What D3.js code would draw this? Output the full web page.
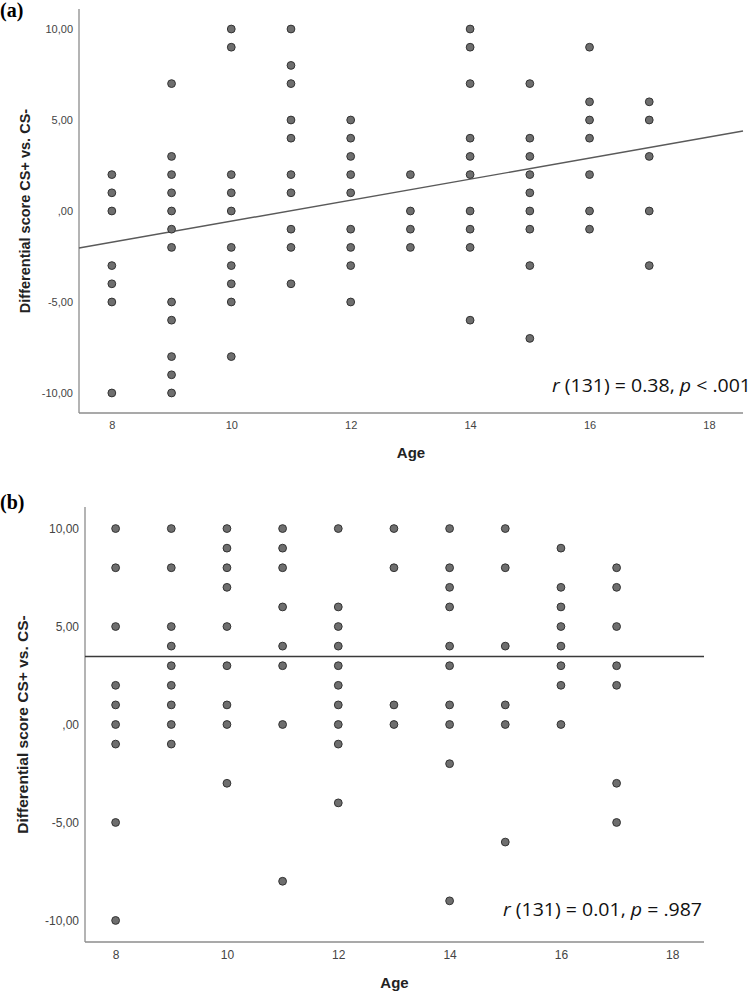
<!DOCTYPE html>
<html>
<head>
<meta charset="utf-8">
<script src="https://cdn.jsdelivr.net/npm/d3@7"></script>
<style>
  body { margin: 0; background: #fff; }
  svg { display: block; }
</style>
</head>
<body>
<div id="chart"></div>
<script>
// ages on the x axis (one column of points per age)
var ages = [8, 9, 10, 11, 12, 13, 14, 15, 16, 17];

// panel (a): differential scores per age
var scoresA = [
  [2, 1, 0, -3, -4, -5, -10],
  [7, 3, 2, 1, 0, -1, -2, -5, -6, -8, -9, -10],
  [10, 9, 2, 1, 0, -2, -3, -4, -5, -8],
  [10, 8, 7, 5, 4, 2, 1, -1, -2, -4],
  [5, 4, 3, 2, 1, -1, -2, -3, -5],
  [2, 0, -1, -2],
  [10, 9, 7, 4, 3, 2, 0, -1, -2, -6],
  [7, 4, 3, 2, 1, 0, -1, -3, -7],
  [9, 6, 5, 4, 2, 0, -1],
  [6, 5, 3, 0, -3]
];

// panel (b): differential scores per age
var scoresB = [
  [10, 8, 5, 2, 1, 0, -1, -5, -10],
  [10, 8, 5, 4, 3, 2, 1, 0, -1],
  [10, 9, 8, 7, 5, 3, 1, 0, -3],
  [10, 9, 8, 6, 4, 3, 0, -8],
  [10, 6, 5, 4, 3, 2, 1, 0, -1, -4],
  [10, 8, 1, 0],
  [10, 8, 7, 6, 4, 3, 1, 0, -2, -9],
  [10, 8, 4, 1, 0, -6],
  [9, 7, 6, 5, 4, 3, 2, 0],
  [8, 7, 5, 3, 2, -3, -5]
];

// fitted regression lines
var slopeA = 0.578, interceptA = -6.34;
var slopeB = 0.0, interceptB = 3.47;

var xTicks = [8, 10, 12, 14, 16, 18];
var yTicks = [-10, -5, 0, 5, 10];
var xDomain = [7.45, 18.57];
var yDomain = [-11.1, 11.1];

var yTitle = "Differential score CS+ vs. CS-";
var xTitle = "Age";

var W = 752, H = 994;
var svg = d3.select("#chart").append("svg").attr("width", W).attr("height", H);

var loc = d3.formatLocale({decimal: ",", thousands: ".", grouping: [3], currency: ["", ""], minus: "-"});
var f2 = loc.format(".2f");
function yFmt(v) {
  var s = f2(v);
  return s.replace(/^0,/, ",").replace(/^-0,/, "-,");
}

function panel(o) {
  var x = d3.scaleLinear().domain(xDomain).range([o.left, o.right]);
  var y = d3.scaleLinear().domain(yDomain).range([o.bottom, o.top]);
  var g = svg.append("g");

  // panel letter
  g.append("text")
    .attr("x", 0).attr("y", o.letterY)
    .style("font-family", "'Liberation Serif', 'Times New Roman', serif")
    .style("font-weight", "bold").style("font-size", "20px")
    .text(o.letter);

  // axes (SPSS style: no tick marks)
  var yAxis = d3.axisLeft(y).tickValues(yTicks).tickFormat(yFmt).tickSize(0).tickPadding(6);
  var gy = g.append("g").attr("transform", "translate(" + o.left + ",0)").call(yAxis);
  var xAxis = d3.axisBottom(x).tickValues(xTicks).tickSize(0).tickPadding(o.xPad);
  var gx = g.append("g").attr("transform", "translate(0," + o.bottom + ")").call(xAxis);
  [gx, gy].forEach(function (a) {
    a.select(".domain").attr("stroke", "#8c8c8c").attr("stroke-width", 1.3);
    a.selectAll("text")
      .style("font-family", "'Liberation Sans', Arial, sans-serif")
      .style("font-size", o.tickSize + "px")
      .attr("fill", "#444");
  });
  // y axis line extends to the top, x axis to the right end
  gy.select(".domain").attr("d", "M0," + o.bottom + "V" + o.top);
  gx.select(".domain").attr("d", "M" + o.left + ",0H" + o.right);

  // axis titles
  g.append("text")
    .attr("transform", "translate(" + o.yTitleX + "," + (o.top + o.bottom) / 2 + ") rotate(-90)")
    .attr("text-anchor", "middle").attr("dy", "0.35em")
    .style("font-family", "'Liberation Sans', Arial, sans-serif")
    .style("font-weight", "bold").style("font-size", o.titleSize + "px")
    .attr("fill", "#222")
    .text(yTitle);
  g.append("text")
    .attr("x", (o.left + o.right) / 2).attr("y", o.xTitleY)
    .attr("text-anchor", "middle").attr("dy", "0.35em")
    .style("font-family", "'Liberation Sans', Arial, sans-serif")
    .style("font-weight", "bold").style("font-size", "15px")
    .attr("fill", "#222")
    .text(xTitle);

  // regression line
  g.append("line")
    .attr("x1", x(xDomain[0])).attr("y1", y(o.intercept + o.slope * xDomain[0]))
    .attr("x2", x(xDomain[1])).attr("y2", y(o.intercept + o.slope * xDomain[1]))
    .attr("stroke", o.lineColor).attr("stroke-width", 1.4);

  // points
  var pts = [];
  ages.forEach(function (a, i) {
    o.scores[i].forEach(function (v) { pts.push([a, v]); });
  });
  g.append("g").selectAll("circle")
    .data(pts).enter().append("circle")
    .attr("cx", function (d) { return x(d[0]); })
    .attr("cy", function (d) { return y(d[1]); })
    .attr("r", 3.9)
    .attr("fill", "#6e6e6e")
    .attr("stroke", "#333").attr("stroke-width", 1);

  // correlation annotation
  var t = g.append("text")
    .attr("x", o.noteX).attr("y", o.noteY)
    .attr("text-anchor", o.noteAnchor)
    .style("font-family", "'Open Sans', 'Noto Sans', sans-serif")
    .style("font-size", "18px")
    .attr("fill", "#111")
    .attr("textLength", 199).attr("lengthAdjust", "spacingAndGlyphs");
  t.append("tspan").style("font-style", "italic").text("r");
  t.append("tspan").text(" (131) = " + o.r + ", ");
  t.append("tspan").style("font-style", "italic").text("p");
  t.append("tspan").text(" " + o.p);
}

panel({
  letter: "(a)", letterY: 17,
  left: 79, right: 743, top: 9, bottom: 413,
  scores: scoresA, slope: slopeA, intercept: interceptA,
  lineColor: "#5a5a5a", tickSize: 11, titleSize: 14.5, xPad: 8,
  yTitleX: 25, xTitleY: 453,
  noteX: 751, noteY: 392, noteAnchor: "end", r: "0.38", p: "< .001"
});

panel({
  letter: "(b)", letterY: 509,
  left: 85, right: 704, top: 507, bottom: 942,
  scores: scoresB, slope: slopeB, intercept: interceptB,
  lineColor: "#3a3a3a", tickSize: 12, titleSize: 15.5, xPad: 8,
  yTitleX: 23, xTitleY: 983,
  noteX: 503, noteY: 916, noteAnchor: "start", r: "0.01", p: "= .987"
});
</script>
</body>
</html>
